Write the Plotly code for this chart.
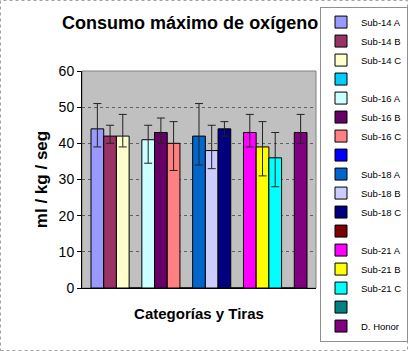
import plotly.graph_objects as go

series_names = ["Sub-14 A", "Sub-14 B", "Sub-14 C", " ",
                "Sub-16 A", "Sub-16 B", "Sub-16 C", " ",
                "Sub-18 A", "Sub-18 B", "Sub-18 C", " ",
                "Sub-21 A", "Sub-21 B", "Sub-21 C", " ",
                "D. Honor"]
values = [44, 42, 42, 0,
          41, 43, 40, 0,
          42, 38, 44, 0,
          43, 39, 36, 0,
          43]
err_plus = [7, 3, 6, 0,
            4, 4, 6, 0,
            9, 7, 2, 0,
            5, 7, 7, 0,
            5]
err_minus = [5, 2, 3, 0,
             6.5, 3, 7.5, 0,
             8, 5, 2, 0,
             4, 8, 8, 0,
             3]
colors = ["#9999FF", "#993366", "#FFFFCC", "#00CCFF",
          "#CCFFFF", "#660066", "#FF8080", "#0000FF",
          "#0066CC", "#CCCCFF", "#000080", "#800000",
          "#FF00FF", "#FFFF00", "#00FFFF", "#008080",
          "#800080"]
blank = [n.strip() == "" for n in series_names]

FONT = "Liberation Sans, Arial, sans-serif"

fig = go.Figure()
for i, name in enumerate(series_names):
    fig.add_trace(go.Bar(
        x=[""], y=[values[i]], name=name,
        legendgroup="g%d" % i,
        marker=dict(color=colors[i], line=dict(color="black", width=1)),
        error_y=None if blank[i] else dict(
            type="data", symmetric=False,
            array=[err_plus[i]], arrayminus=[err_minus[i]],
            color="#222222", thickness=1, width=4),
        hoverinfo="skip",
    ))

fig.update_layout(
    width=408, height=351,
    margin=dict(l=82, r=92, t=71, b=63, autoexpand=False),
    paper_bgcolor="white",
    plot_bgcolor="#c0c0c0",
    barmode="group",
    bargap=0.077,
    bargroupgap=0,
    font=dict(family=FONT, color="black"),
    title=dict(text="<b>Consumo máximo de oxígeno</b>",
               font=dict(size=18, family=FONT, color="black"),
               x=0.466, xanchor="center", y=0.935, yanchor="middle"),
    showlegend=True,
    legend=dict(x=(320 - 82) / 234, xanchor="left", y=0.525, yanchor="middle",
                maxheight=345,
                bgcolor="white", bordercolor="#909090", borderwidth=1,
                font=dict(size=9.5, family=FONT),
                tracegroupgap=0, itemwidth=30,
                traceorder="normal"),
    xaxis=dict(showticklabels=False, showline=True, linecolor="black",
               linewidth=1, ticks="", showgrid=False,
               title=dict(text="<b>Categorías y Tiras</b>",
                          font=dict(size=15, family=FONT), standoff=20)),
    yaxis=dict(range=[0, 60], dtick=10, showline=True, linecolor="black",
               linewidth=1, ticks="outside", ticklen=4, tickcolor="black",
               tickfont=dict(size=14, family=FONT),
               showgrid=True, gridcolor="#606060", griddash="dot", gridwidth=1,
               zeroline=False,
               title=dict(text="<b>ml / kg / seg</b>",
                          font=dict(size=17, family=FONT), standoff=6)),
    shapes=[
        dict(type="rect", xref="x domain", yref="y domain",
             x0=0, x1=1, y0=0, y1=1, line=dict(color="#808080", width=1),
             layer="below"),
        dict(type="rect", xref="paper", yref="paper",
             x0=-81.5/234, x1=(408-82-0.5)/234, y0=-(63-0.5)/217, y1=1+70.5/217,
             line=dict(color="#a0a0a0", width=1, dash="dot")),
    ],
)

fig.write_html("out.html")
